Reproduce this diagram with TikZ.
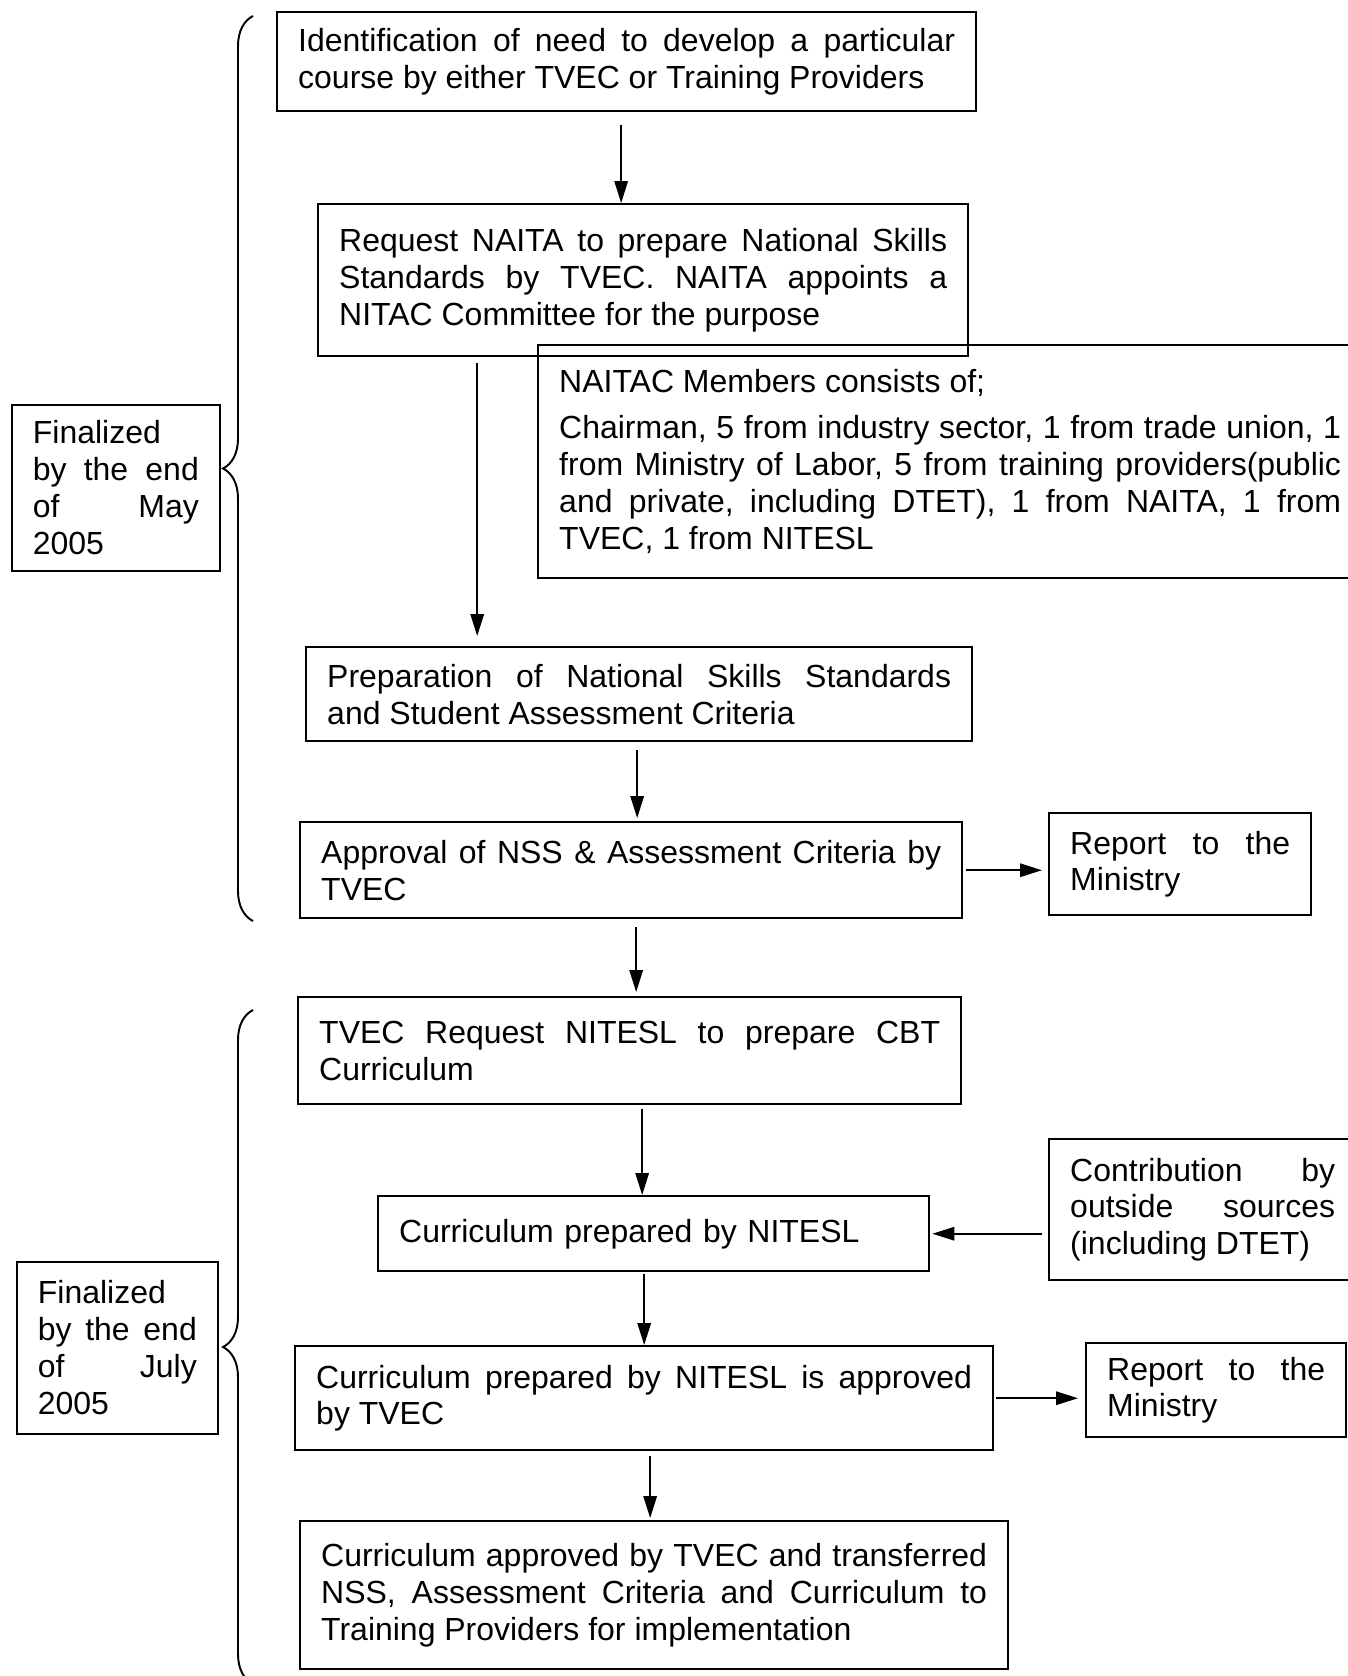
\documentclass[tikz,border=0pt]{standalone}
\usepackage{fontspec}
\setmainfont{Liberation Sans}
\usetikzlibrary{arrows.meta,decorations.pathreplacing}

\begin{document}
\begin{tikzpicture}[x=0.02cm, y=-0.02cm,
  font=\fontsize{18.2pt}{21pt}\selectfont\frenchspacing,
  box/.style={draw, line width=1.4pt, inner xsep=0.42cm, inner ysep=0.1cm,
    align=justify, anchor=north west},
  tagbox/.style={box, line width=1pt},
  arr/.style={line width=0.9pt, -{Triangle[length=0.44cm, width=0.27cm]}},
  curly/.style={line width=1.1pt, decorate,
    decoration={brace, amplitude=0.6cm}}]
  \useasboundingbox ( 0,0 ) rectangle ( 1348,1676 );
  \fill[white] ( 0,0 ) rectangle ( 1348,1676 );
  \clip ( 0,0 ) rectangle ( 1348,1676 );

  \node[box, text width=13.14cm, minimum height=1.98cm] (ident) at ( 276,11 )
  {Identification of need to develop a particular\linebreak course by
    either TVEC or Training Providers};
  \node[box, text width=12.16cm, minimum height=3.04cm] (naita) at ( 317,203 )
  {Request NAITA to prepare National Skills\linebreak Standards by TVEC.
    NAITA appoints a\linebreak NITAC Committee for the purpose};
  \node[box, text width=15.64cm, minimum height=4.66cm] (members) at ( 537,344 )
  {NAITAC Members consists of;\\[0.18cm] Chairman, 5 from industry sector, 1
    from trade union, 1\linebreak from Ministry of Labor, 5 from training
    providers(public\linebreak and private, including DTET), 1 from NAITA, 1
    from\linebreak TVEC, 1 from NITESL};
  \node[box, text width=12.48cm, minimum height=1.88cm] (prep) at ( 305,646 )
  {Preparation of National Skills Standards\linebreak and Student Assessment
    Criteria};
  \node[box, text width=12.4cm, minimum height=1.92cm] (approve) at ( 299,821 )
  {Approval of NSS \& Assessment Criteria by\linebreak TVEC};
  \node[box, text width=4.4cm, minimum height=2.04cm] (report) at ( 1048,812 )
  {Report to the\linebreak Ministry};

  \node[box, text width=12.42cm, minimum height=2.14cm] (cbt) at ( 297,996 )
  {TVEC Request NITESL to prepare CBT\linebreak Curriculum};
  \node[box, align=left, text width=10.18cm, minimum height=1.5cm] (drafted)
  at ( 377,1195 ) {Curriculum prepared by NITESL};
  \node[box, text width=5.3cm, minimum height=2.82cm] (outside) at ( 1048,1138 )
  {Contribution by\linebreak outside sources\linebreak (including DTET)};
  \node[box, text width=13.12cm, minimum height=2.08cm] (endorse) at ( 294,1345 )
  {Curriculum prepared by NITESL is approved\linebreak by TVEC};
  \node[box, text width=4.36cm, minimum height=1.88cm] (report2) at ( 1085,1342 )
  {Report to the\linebreak Ministry};
  \node[box, text width=13.32cm, minimum height=2.96cm] (handover) at ( 299,1520 )
  {Curriculum approved by TVEC and transferred\linebreak NSS, Assessment
    Criteria and Curriculum to\linebreak Training Providers for
    implementation};

  \node[tagbox, text width=3.32cm, minimum height=3.32cm] (may) at ( 11,404 )
  {Finalized\\ by the end\linebreak of May\linebreak 2005};
  \node[tagbox, text width=3.18cm, minimum height=3.44cm] (july) at ( 16,1261 )
  {Finalized\\ by the end\linebreak of July\linebreak 2005};

  \draw[curly] ( 253,921 ) -- ( 253,16 );
  \draw[curly] ( 253,1684 ) -- ( 253,1010 );

  \draw[arr] ([xshift=-0.11cm,yshift=-0.26cm]ident.south) --
  ([xshift=-0.11cm]ident.south |- naita.north);
  \draw[arr] ([xshift=-3.32cm,yshift=-0.12cm]naita.south) --
  ([xshift=-3.32cm,yshift=0.2cm]naita.south |- prep.north);
  \draw[arr] ([xshift=-0.04cm,yshift=-0.16cm]prep.south) --
  ([xshift=-0.04cm,yshift=0.06cm]prep.south |- approve.north);
  \draw[arr] ([xshift=0.06cm]approve.east) --
  ([xshift=-0.12cm]report.west |- approve.east);
  \draw[arr] ([xshift=0.1cm,yshift=-0.16cm]approve.south) --
  ([xshift=0.1cm,yshift=0.08cm]approve.south |- cbt.north);
  \draw[arr] ([xshift=0.25cm,yshift=-0.08cm]cbt.south) --
  ([xshift=0.25cm]cbt.south |- drafted.north);
  \draw[arr] ([xshift=-0.12cm]outside.west |- drafted.east) --
  ([xshift=0.04cm]drafted.east);
  \draw[arr] ([xshift=-0.19cm,yshift=-0.04cm]drafted.south) --
  ([xshift=-0.19cm]drafted.south |- endorse.north);
  \draw[arr] ([xshift=0.04cm]endorse.east) --
  ([xshift=-0.14cm]report2.west |- endorse.east);
  \draw[arr] ([xshift=0.12cm,yshift=-0.1cm]endorse.south) --
  ([xshift=0.12cm,yshift=0.04cm]endorse.south |- handover.north);
\end{tikzpicture}
\end{document}
